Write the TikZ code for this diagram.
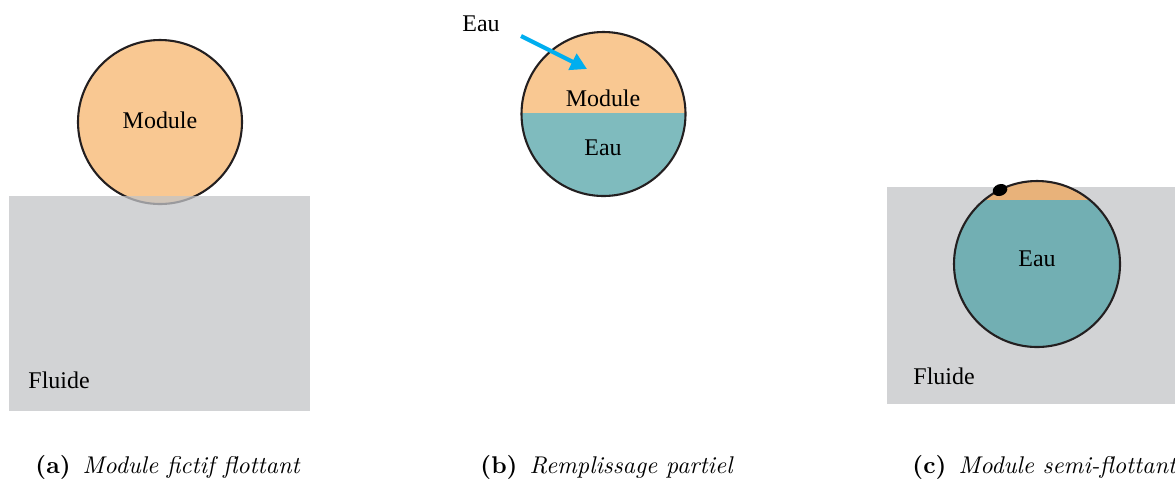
\documentclass[tikz,border=0pt]{standalone}
\usepackage{fontspec}
\newfontfamily\figfont{Liberation Serif}
\usetikzlibrary{arrows.meta}
\definecolor{modorange}{RGB}{249,200,146}
\definecolor{capcol}{RGB}{232,178,122}
\definecolor{eauteal}{RGB}{127,187,190}
\definecolor{eaudark}{RGB}{114,175,179}
\definecolor{fluidgray}{RGB}{210,211,213}
\definecolor{fluidbase}{RGB}{195,196,199}
\definecolor{outline}{RGB}{35,31,32}
\definecolor{arrowcyan}{RGB}{0,174,239}
\tikzset{
  figtext/.style={font=\figfont\fontsize{10.3}{12}\selectfont, inner sep=0pt},
  captext/.style={anchor=west, inner sep=0pt, font=\fontsize{10.4}{12}\selectfont},
  rim/.style={draw=outline, line width=0.9pt},
}
\begin{document}
\begin{tikzpicture}[x=0.43pt, y=-0.43pt]
\useasboundingbox (0,0) rectangle (1175,480);
\clip (0,0) rectangle (1175,480);
% ---------- (a)
\filldraw[rim, fill=modorange] (160,122) circle (82);
\fill[fluidbase, opacity=0.75] (9,196) rectangle (310,411);
\node[figtext] (moda) at (160,120) {Module};
\node[figtext, anchor=west] (fluidea) at (28,380) {Fluide};
% ---------- (b)
\begin{scope}
  \clip (603.5,114) circle (82);
  \fill[modorange] (520,30) rectangle (690,113);
  \fill[eauteal] (520,113) rectangle (690,200);
\end{scope}
\draw[rim] (603.5,114) circle (82);
\node[figtext] (modb) at (603,98) {Module};
\node[figtext] (eaub) at (603,148) {Eau};
\node[figtext] (eaulabel) at (481,24) {Eau};
\coordinate (arrs) at (521,36);
\coordinate (arre) at (587,69);
\draw[arrowcyan, line width=1.8pt, -{Triangle[length=7pt,width=7.5pt]}] (arrs) -- (arre);
% ---------- (c)
\fill[fluidgray] (887,187) rectangle (1180,404);
\begin{scope}
  \clip (1037,264) circle (83);
  \fill[capcol] (950,175) rectangle (1125,200);
  \fill[eaudark] (950,200) rectangle (1125,350);
\end{scope}
\draw[rim] (1037,264) circle (83);
\fill[black, rotate around={20:(1000,190)}] (1000,190) ellipse (7.5 and 5.8);
\node[figtext] (eauc) at (1037,259) {Eau};
\node[figtext, anchor=west] (fluidec) at (913,376) {Fluide};
% ---------- captions
\node[captext] (capa) at (35,467) {\textbf{(a)}\enspace\textit{Module fictif flottant}};
\node[captext] (capb) at (480,467) {\textbf{(b)}\enspace\textit{Remplissage partiel}};
\node[captext] (capc) at (912,467) {\textbf{(c)}\enspace\textit{Module semi-flottant}};
\end{tikzpicture}
\end{document}
